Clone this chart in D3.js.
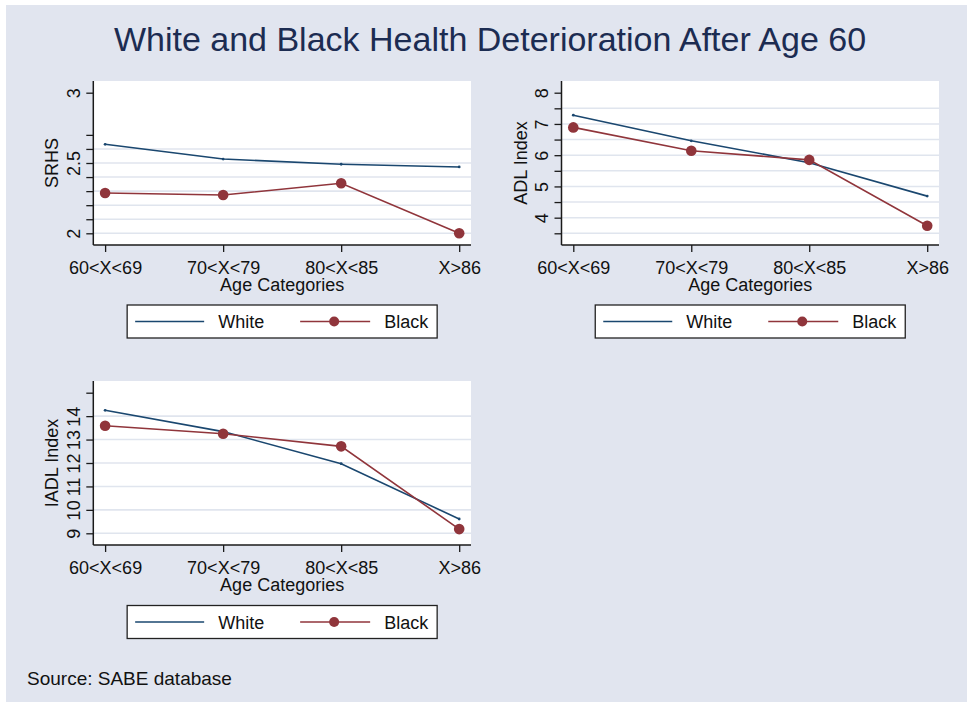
<!DOCTYPE html>
<html>
<head>
<meta charset="utf-8">
<script src="https://cdn.jsdelivr.net/npm/d3@7"></script>
<style>
  html, body { margin: 0; padding: 0; background: #ffffff; }
  svg text { font-family: "Liberation Sans", Arial, Helvetica, sans-serif; }
</style>
</head>
<body>
<div id="chart"></div>
<script>
// ---------------- DATA ----------------
const categories = ["60<X<69", "70<X<79", "80<X<85", "X>86"];

const srhsWhite = [2.633, 2.528, 2.491, 2.472];
const srhsBlack = [2.287, 2.272, 2.356, 2.0];

const adlWhite = [7.28, 6.46, 5.76, 4.69];
const adlBlack = [6.89, 6.14, 5.85, 3.74];

const iadlWhite = [14.25, 13.34, 11.97, 9.61];
const iadlBlack = [13.59, 13.25, 12.71, 9.18];

const srhsTicks = [2.0, 2.1, 2.2, 2.3, 2.4, 2.5, 2.6, 2.7, 3.0];
const srhsLabels = [2, 2.5, 3];
const srhsGrid = [2.0, 2.1, 2.2, 2.3, 2.4, 2.5, 2.6];

const adlTicks = [3.5, 4, 4.5, 5, 5.5, 6, 6.5, 7, 7.5, 8];
const adlLabels = [4, 5, 6, 7, 8];
const adlGrid = [3.5, 4, 4.5, 5, 5.5, 6, 6.5, 7, 7.5];

const iadlTicks = [9, 10, 11, 12, 13, 14, 15];
const iadlLabels = [9, 10, 11, 12, 13, 14];
const iadlGrid = [9, 10, 11, 12, 13, 14];

const seriesNames = ["White", "Black"];
const titleText = "White and Black Health Deterioration After Age 60";
const xTitle = "Age Categories";
const sourceText = "Source: SABE database";

// ---------------- STYLE ----------------
const W = 973, H = 708;
const bg = "#e1e5ef";
const gridColor = "#e0e5ee";
const navy = "#1a476f";
const maroon = "#90353b";
const axisColor = "#1a1a1a";

const svg = d3.select("#chart").append("svg")
  .attr("width", W).attr("height", H);

svg.append("rect").attr("x", 0).attr("y", 0).attr("width", W).attr("height", H).attr("fill", "#ffffff");
svg.append("rect").attr("x", 6).attr("y", 5).attr("width", W - 12).attr("height", H - 11).attr("fill", bg);

svg.append("text")
  .attr("x", 490).attr("y", 51)
  .attr("text-anchor", "middle")
  .attr("font-size", 34)
  .attr("fill", "#1c2c52")
  .text(titleText);

svg.append("text")
  .attr("x", 27).attr("y", 685)
  .attr("font-size", 19)
  .attr("fill", "#111")
  .text(sourceText);

function panel(opts) {
  const { left, top, right, bottom, domain, ticks, labels, grid, white, black, yTitle, legendY } = opts;
  const g = svg.append("g");

  g.append("rect").attr("x", left).attr("y", top)
    .attr("width", right - left).attr("height", bottom - top)
    .attr("fill", "#ffffff");

  const x = d3.scalePoint().domain(categories).range([left, right]).padding(0.1);
  const y = d3.scaleLinear().domain(domain).range([top + 152.3, top + 11.7]);

  // gridlines
  g.append("g").selectAll("line").data(grid).join("line")
    .attr("x1", left).attr("x2", right)
    .attr("y1", d => y(d)).attr("y2", d => y(d))
    .attr("stroke", gridColor).attr("stroke-width", 1.6);

  // y axis
  const yAxis = d3.axisLeft(y).tickValues(ticks).tickSize(7).tickSizeOuter(0)
    .tickFormat(d => labels.some(l => Math.abs(l - d) < 1e-9) ? d3.format("~g")(d) : "");
  const ya = g.append("g").attr("transform", `translate(${left},0)`).call(yAxis);
  ya.select(".domain").remove();
  ya.selectAll(".tick line").attr("stroke", axisColor).attr("stroke-width", 1.3);
  ya.selectAll(".tick text")
    .attr("x", null).attr("dy", null)
    .attr("transform", "translate(-13.5,0) rotate(-90)")
    .attr("text-anchor", "middle")
    .attr("font-size", 18)
    .attr("font-family", "Liberation Sans, Arial, sans-serif")
    .attr("fill", "#111");
  g.append("line").attr("x1", left).attr("x2", left).attr("y1", top).attr("y2", bottom)
    .attr("stroke", axisColor).attr("stroke-width", 1.5);

  // x axis
  const xAxis = d3.axisBottom(x).tickSize(7).tickSizeOuter(0);
  const xa = g.append("g").attr("transform", `translate(0,${bottom})`).call(xAxis);
  xa.select(".domain").remove();
  xa.selectAll(".tick line").attr("stroke", axisColor).attr("stroke-width", 1.3);
  xa.selectAll(".tick text")
    .attr("y", 29).attr("dy", null)
    .attr("font-size", 18)
    .attr("font-family", "Liberation Sans, Arial, sans-serif")
    .attr("fill", "#111");
  g.append("line").attr("x1", left).attr("x2", right).attr("y1", bottom).attr("y2", bottom)
    .attr("stroke", axisColor).attr("stroke-width", 1.5);

  // axis titles
  g.append("text")
    .attr("transform", `translate(${left - 35},${(top + bottom) / 2}) rotate(-90)`)
    .attr("text-anchor", "middle").attr("font-size", 18).attr("fill", "#111")
    .text(yTitle);
  g.append("text")
    .attr("x", (left + right) / 2).attr("y", bottom + 46)
    .attr("text-anchor", "middle").attr("font-size", 18).attr("fill", "#111")
    .text(xTitle);

  // lines
  const line = d3.line().x((d, i) => x(categories[i])).y(d => y(d));
  g.append("path").datum(white).attr("d", line)
    .attr("fill", "none").attr("stroke", navy).attr("stroke-width", 1.6);
  g.append("g").selectAll("circle").data(white).join("circle")
    .attr("cx", (d, i) => x(categories[i])).attr("cy", d => y(d)).attr("r", 1.4)
    .attr("fill", navy);
  g.append("path").datum(black).attr("d", line)
    .attr("fill", "none").attr("stroke", maroon).attr("stroke-width", 1.6);
  g.append("g").selectAll("circle").data(black).join("circle")
    .attr("cx", (d, i) => x(categories[i])).attr("cy", d => y(d)).attr("r", 5.3)
    .attr("fill", maroon);

  // legend
  const cx = (left + right) / 2;
  const lx = cx - 155, lw = 310, lh = 33;
  const lg = g.append("g");
  lg.append("rect").attr("x", lx).attr("y", legendY).attr("width", lw).attr("height", lh)
    .attr("fill", "#ffffff").attr("stroke", "#222").attr("stroke-width", 1.3);
  const my = legendY + lh / 2;
  lg.append("line").attr("x1", lx + 8).attr("x2", lx + 77).attr("y1", my).attr("y2", my)
    .attr("stroke", navy).attr("stroke-width", 1.6);
  lg.append("text").attr("x", lx + 91).attr("y", my + 6.5).attr("font-size", 18).attr("fill", "#111")
    .text(seriesNames[0]);
  lg.append("line").attr("x1", lx + 173).attr("x2", lx + 243).attr("y1", my).attr("y2", my)
    .attr("stroke", maroon).attr("stroke-width", 1.6);
  lg.append("circle").attr("cx", lx + 207).attr("cy", my).attr("r", 5)
    .attr("fill", maroon);
  lg.append("text").attr("x", lx + 257).attr("y", my + 6.5).attr("font-size", 18).attr("fill", "#111")
    .text(seriesNames[1]);
}

panel({ left: 93.3, top: 81, right: 471, bottom: 245, domain: [2, 3],
  ticks: srhsTicks, labels: srhsLabels, grid: srhsGrid,
  white: srhsWhite, black: srhsBlack, yTitle: "SRHS", legendY: 305 });

panel({ left: 561.5, top: 81, right: 939, bottom: 245, domain: [3.5, 8],
  ticks: adlTicks, labels: adlLabels, grid: adlGrid,
  white: adlWhite, black: adlBlack, yTitle: "ADL Index", legendY: 305 });

panel({ left: 93.3, top: 381, right: 471, bottom: 545, domain: [9, 15],
  ticks: iadlTicks, labels: iadlLabels, grid: iadlGrid,
  white: iadlWhite, black: iadlBlack, yTitle: "IADL Index", legendY: 605.5 });
</script>
</body>
</html>
